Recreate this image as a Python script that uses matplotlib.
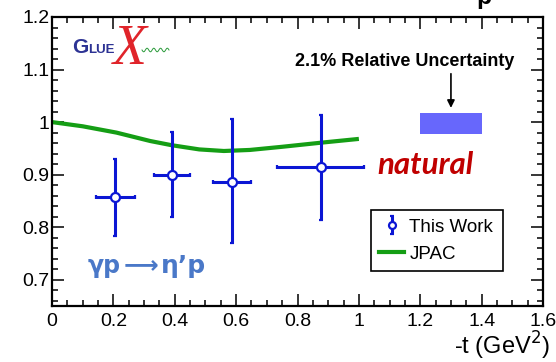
import numpy as np
import matplotlib
matplotlib.use("Agg")
import matplotlib.pyplot as plt
from matplotlib.lines import Line2D
from matplotlib.ticker import MultipleLocator, FuncFormatter

plt.rcParams['font.family'] = ['Liberation Sans', 'DejaVu Sans']

# Measured ratio vs -t
t_vals = [0.205, 0.390, 0.587, 0.878]
t_err_lo = [0.062, 0.058, 0.062, 0.145]
t_err_hi = [0.066, 0.060, 0.060, 0.139]
ratio = [0.857, 0.900, 0.886, 0.915]
ratio_err_lo = [0.074, 0.080, 0.117, 0.102]
ratio_err_hi = [0.073, 0.082, 0.120, 0.098]

# JPAC prediction
jpac_t = [0.0, 0.10, 0.21, 0.32, 0.39, 0.48, 0.56, 0.645, 0.75, 0.88, 1.0]
jpac_r = [1.0, 0.992, 0.980, 0.964, 0.956, 0.948, 0.945, 0.947, 0.953, 0.961, 0.968]

# Normalisation uncertainty band
unc_t = [1.2, 1.4]
unc_r = [0.977, 1.018]

x_ticks = [0, 0.2, 0.4, 0.6, 0.8, 1.0, 1.2, 1.4, 1.6]
y_ticks = [0.7, 0.8, 0.9, 1.0, 1.1, 1.2]

W, H = 556, 362
fig = plt.figure(figsize=(W / 100, H / 100), dpi=100)
ax = fig.add_axes([52 / W, 1 - 306 / H, (543 - 52) / W, (306 - 17) / H])

ax.set_xlim(0, 1.6)
ax.set_ylim(0.65, 1.2)

blue = '#0b16d4'
green = '#159e15'

ax.plot(jpac_t, jpac_r, color=green, lw=3.0, solid_capstyle='butt', zorder=2)

ax.errorbar(t_vals, ratio,
            xerr=[t_err_lo, t_err_hi],
            yerr=[ratio_err_lo, ratio_err_hi],
            fmt='o', color=blue, ecolor=blue, elinewidth=2.2,
            capsize=1.2, capthick=2.2,
            mfc='white', mec=blue, mew=1.6, ms=6.5, zorder=3)

ax.fill_between(unc_t, [unc_r[0]] * 2, [unc_r[1]] * 2,
                color='#6767fc', lw=0, zorder=2)

# Axis styling: ticks inside on all four sides
for s in ax.spines.values():
    s.set_linewidth(1.6)
ax.xaxis.set_minor_locator(MultipleLocator(0.05))
ax.yaxis.set_minor_locator(MultipleLocator(0.02))
ax.set_xticks(x_ticks)
ax.set_yticks(y_ticks)
fmt = FuncFormatter(lambda v, p: f'{v:g}')
ax.xaxis.set_major_formatter(fmt)
ax.yaxis.set_major_formatter(fmt)
ax.tick_params(which='both', direction='in', top=True, right=True,
               width=1.1, labelsize=14)
ax.tick_params(which='major', length=8.5)
ax.tick_params(which='minor', length=4.5)
ax.tick_params(axis='x', pad=5)
ax.tick_params(axis='y', pad=2)

fig.text(550 / W, 1 - 355 / H, '-t (GeV$^2$)', ha='right', va='baseline',
         fontsize=17)

# Annotations
ax.text(1.15, 1.115, '2.1% Relative Uncertainty', ha='center', va='center',
        fontsize=13, fontweight='bold')
ax.annotate('', xy=(1.3, 1.027), xytext=(1.3, 1.092),
            arrowprops=dict(arrowstyle='-|>', color='black', lw=1.2,
                            mutation_scale=11, shrinkA=0, shrinkB=0))
ax.text(1.216, 0.902, 'natural', ha='center', va='baseline',
        fontsize=22.5, fontweight='bold', style='italic', color='#c00000',
        family=['Lato', 'DejaVu Sans'])

# Reaction label, drawn in three pieces so the arrow can be long
react_col = '#4a78c8'
base_y = 1 - 273 / H
fig.text(88 / W, base_y, 'γp', ha='left', va='baseline', fontsize=17,
         fontweight='bold', color=react_col, family='DejaVu Sans')
fig.text(141 / W, base_y + 1 / H, '⟶', ha='center', va='baseline',
         fontsize=17.5, fontweight='bold', color=react_col,
         family='DejaVu Sans')
fig.text(161 / W, base_y, 'η’p', ha='left', va='baseline', fontsize=18,
         fontweight='bold', color=react_col, family='DejaVu Sans')

# Legend
h_data = ax.errorbar([np.nan], [np.nan], yerr=[[0.1], [0.1]], fmt='o',
                     color=blue, ecolor=blue, elinewidth=2.2, capsize=1.2,
                     capthick=2.2, mfc='white', mec=blue, mew=1.6, ms=5,
                     label='This Work')
h_jpac = Line2D([], [], color=green, lw=3.0, label='JPAC')
lx0 = (371 - 52) / 491
lw_ = (503 - 371) / 491
ly1 = (306 - 210) / 289
leg = ax.legend(handles=[h_data, h_jpac], loc='upper left', mode='expand',
                bbox_to_anchor=(lx0, ly1 - 0.2, lw_, 0.2),
                fontsize=13.5, frameon=True, fancybox=False, framealpha=1,
                edgecolor='black', handlelength=1.3, handletextpad=0.3,
                borderpad=0.45, labelspacing=0.55, borderaxespad=0)
leg.get_frame().set_linewidth(1.2)

# GlueX logo
fig.text(72 / W, 1 - 53 / H, 'G', color='#2d3394', fontsize=15,
         fontweight='bold', va='baseline', ha='left')
fig.text(88 / W, 1 - 53 / H, 'LUE', color='#2d3394', fontsize=9.5,
         fontweight='bold', va='baseline', ha='left')
fig.text(130 / W, 1 - 50 / H, 'X', color='#e0242a', fontsize=40,
         style='italic', family='Liberation Serif', va='center', ha='center')
xs = np.linspace(142, 169, 60)
ys = 50 + 1.8 * np.sin((xs - 142) / 27 * 2 * np.pi * 4)
fig.add_artist(Line2D(xs / W, 1 - ys / H, color='#2a9a3a', lw=0.7,
                      transform=fig.transFigure))

# Partial title glyph at the top edge
fig.text(484 / W, 1 - 4 / H, 'p', ha='center', va='baseline',
         fontsize=18, fontweight='bold')

fig.savefig('out.png', dpi=100)
